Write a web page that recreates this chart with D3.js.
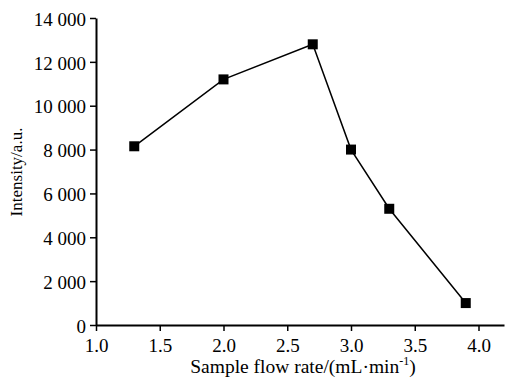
<!DOCTYPE html>
<html>
<head>
<meta charset="utf-8">
<script src="https://cdn.jsdelivr.net/npm/d3@7"></script>
<style>
  body { margin: 0; background: #fff; }
</style>
</head>
<body>
<div class="chart"></div>
<script>
const flowRates = [1.3, 2.0, 2.7, 3.0, 3.3, 3.9]
const intensities = [8150, 11200, 12800, 8000, 5300, 1000]
const xTicks = [1.0, 1.5, 2.0, 2.5, 3.0, 3.5, 4.0]
const yTicks = [0, 2000, 4000, 6000, 8000, 10000, 12000, 14000]

const width = 505, height = 378
const margin = { left: 96, top: 18, right: 1, bottom: 53 }
const serif = '"Liberation Serif", "Times New Roman", serif'

const svg = d3.select('.chart').append('svg')
    .attr('width', width)
    .attr('height', height)
    .style('font-family', serif)

const x = d3.scaleLinear().domain([1.0, 4.2]).range([margin.left, width - margin.right])
const y = d3.scaleLinear().domain([0, 14000]).range([height - margin.bottom, margin.top])

const fmtY = d => d3.format(',')(d).replace(',', ' ')

// axes
const gx = svg.append('g')
    .attr('transform', `translate(0,${y(0)})`)
    .call(d3.axisBottom(x).tickValues(xTicks).tickFormat(d3.format('.1f')).tickSize(6).tickSizeOuter(0))
const gy = svg.append('g')
    .attr('transform', `translate(${x(1.0)},0)`)
    .call(d3.axisLeft(y).tickValues(yTicks).tickFormat(fmtY).tickSize(6).tickSizeOuter(0))

;[gx, gy].forEach(g => {
    g.attr('font-family', serif)
    g.select('.domain').attr('stroke', '#000').attr('stroke-width', 2)
    g.selectAll('.tick line').attr('stroke', '#000').attr('stroke-width', 1.5)
    g.selectAll('.tick text').attr('fill', '#000').style('font-size', '19px').style('font-family', serif)
})
gx.selectAll('.tick text').attr('y', 27).attr('dy', 0)
gy.selectAll('.tick text').attr('x', -10).attr('dy', '0.38em')

// line + markers
const pts = flowRates.map((v, i) => ({ fx: v, iv: intensities[i] }))
svg.append('path')
    .datum(pts)
    .attr('fill', 'none')
    .attr('stroke', '#000')
    .attr('stroke-width', 1.5)
    .attr('d', d3.line().x(d => x(d.fx)).y(d => y(d.iv)))

const sz = 10
svg.append('g').selectAll('rect')
    .data(pts)
    .enter()
    .append('rect')
    .attr('x', d => x(d.fx) - sz / 2)
    .attr('y', d => y(d.iv) - sz / 2)
    .attr('width', sz)
    .attr('height', sz)
    .attr('fill', '#000')

// axis titles
const xt = svg.append('text')
    .attr('x', 303)
    .attr('y', 373)
    .attr('text-anchor', 'middle')
    .style('font-size', '19.5px')
xt.append('tspan').text('Sample flow rate/(mL·min')
xt.append('tspan').attr('dy', -8).style('font-size', '12px').text('-1')
xt.append('tspan').attr('dy', 8).text(')')

svg.append('text')
    .attr('transform', `translate(22,172) rotate(-90)`)
    .attr('text-anchor', 'middle')
    .style('font-size', '17px')
    .text('Intensity/a.u.')
</script>
</body>
</html>
